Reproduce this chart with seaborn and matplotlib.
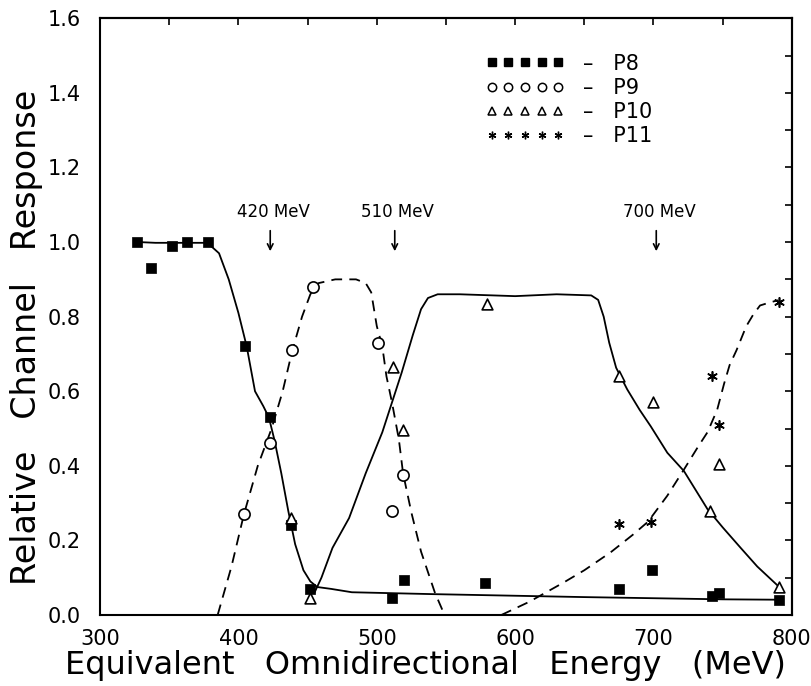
import numpy as np
import pandas as pd
import matplotlib
matplotlib.use("Agg")
import matplotlib.pyplot as plt
from matplotlib.lines import Line2D
from matplotlib.ticker import MultipleLocator, FormatStrFormatter
import seaborn as sns

# measured points
p8_e = [327, 337, 352, 363, 378, 405, 423, 438, 452, 511, 520, 578, 675, 699, 742, 747, 791]
p8_r = [1.00, 0.93, 0.99, 1.00, 1.00, 0.72, 0.53, 0.24, 0.07, 0.045, 0.095, 0.085, 0.07, 0.12, 0.05, 0.06, 0.04]
p9_e = [404, 423, 439, 454, 501, 511, 519]
p9_r = [0.27, 0.46, 0.71, 0.88, 0.73, 0.28, 0.375]
p10_e = [438, 452, 512, 519, 580, 675, 700, 741, 747, 791]
p10_r = [0.26, 0.045, 0.665, 0.495, 0.835, 0.64, 0.57, 0.28, 0.405, 0.075]
p11_e = [675, 698, 742, 747, 791]
p11_r = [0.245, 0.25, 0.64, 0.51, 0.84]

# fitted response curves
p8_fit_e = [328, 340, 360, 375, 380, 386, 393, 400, 406, 412, 418, 422, 426, 431, 436, 441, 447, 452, 457, 467, 482, 540, 650, 750, 790]
p8_fit_r = [1.00, 0.998, 0.998, 0.998, 0.99, 0.97, 0.90, 0.81, 0.72, 0.60, 0.56, 0.53, 0.47, 0.38, 0.28, 0.19, 0.12, 0.09, 0.075, 0.07, 0.061, 0.056, 0.048, 0.042, 0.041]
p9_fit_e = [385, 395, 404, 414, 424, 432, 439, 446, 452, 458, 470, 485, 492, 496, 500, 504, 507, 511, 516, 519, 525, 532, 542, 549]
p9_fit_r = [0.0, 0.13, 0.27, 0.40, 0.50, 0.60, 0.71, 0.80, 0.86, 0.89, 0.90, 0.90, 0.89, 0.865, 0.775, 0.72, 0.64, 0.57, 0.47, 0.38, 0.275, 0.17, 0.06, 0.0]
p10_fit_e = [455, 460, 468, 480, 492, 504, 511, 518, 526, 532, 537, 544, 560, 600, 630, 655, 660, 664, 668, 673, 681, 690, 698, 710, 722, 739, 750, 763, 775, 790]
p10_fit_r = [0.06, 0.10, 0.18, 0.26, 0.38, 0.49, 0.57, 0.65, 0.75, 0.82, 0.85, 0.86, 0.86, 0.855, 0.86, 0.857, 0.845, 0.80, 0.73, 0.663, 0.605, 0.55, 0.506, 0.435, 0.386, 0.284, 0.235, 0.18, 0.13, 0.078]
p11_fit_e = [590, 610, 635, 650, 669, 685, 696, 710, 722, 732, 739, 746, 751, 755, 760, 767, 772, 777, 784, 790]
p11_fit_r = [0.0, 0.035, 0.087, 0.12, 0.168, 0.215, 0.25, 0.32, 0.39, 0.45, 0.49, 0.55, 0.62, 0.67, 0.71, 0.774, 0.805, 0.83, 0.838, 0.844]

arrow_e = [423, 513, 702]
arrow_txt = ["420 MeV", "510 MeV", "700 MeV"]

sns.set_style("white")
plt.rcParams["font.family"] = ["DejaVu Sans"]
plt.rcParams["text.color"] = "black"
plt.rcParams["axes.labelcolor"] = "black"
plt.rcParams["xtick.color"] = "black"
plt.rcParams["ytick.color"] = "black"

fig = plt.figure(figsize=(8.12, 6.86), dpi=100)
ax = fig.add_axes([0.1232, 0.1035, 0.852, 0.8698])

curves = [(p8_fit_e, p8_fit_r, "-"), (p9_fit_e, p9_fit_r, "--"),
          (p10_fit_e, p10_fit_r, "-"), (p11_fit_e, p11_fit_r, "--")]
for e, r, ls in curves:
    sns.lineplot(x=e, y=r, ax=ax, color="black", lw=1.3, linestyle=ls,
                 sort=False, estimator=None, legend=False)
    if ls == "--":
        ax.lines[-1].set_dashes([6, 4])

sns.scatterplot(x=p8_e, y=p8_r, ax=ax, marker="s", s=52, color="black",
                edgecolor="black", linewidth=0.5, legend=False, zorder=3)
sns.scatterplot(x=p9_e, y=p9_r, ax=ax, marker="o", s=65, facecolor="white",
                edgecolor="black", linewidth=1.2, legend=False, zorder=3)
sns.scatterplot(x=p10_e, y=p10_r, ax=ax, marker="^", s=60, facecolor="white",
                edgecolor="black", linewidth=1.2, legend=False, zorder=3)
sns.scatterplot(x=p11_e, y=p11_r, ax=ax, marker=(6, 2, 0), s=45, color="black",
                linewidth=1.2, legend=False, zorder=3)

for e, t in zip(arrow_e, arrow_txt):
    ax.annotate("", xy=(e, 0.968), xytext=(e, 1.038),
                arrowprops=dict(arrowstyle="->", color="black", lw=1.2))
    ax.text(e + 2, 1.08, t, ha="center", va="center", fontsize=12)

ax.set_xlim(300, 800)
ax.set_ylim(0, 1.6)
ax.xaxis.set_major_locator(MultipleLocator(100))
ax.xaxis.set_minor_locator(MultipleLocator(50))
ax.yaxis.set_major_locator(MultipleLocator(0.2))
ax.yaxis.set_minor_locator(MultipleLocator(0.1))
ax.yaxis.set_major_formatter(FormatStrFormatter("%.1f"))
ax.tick_params(which="both", direction="out", length=5, width=1.2, labelsize=15)
ax.tick_params(axis="y", which="major", pad=9)
ax.tick_params(axis="x", which="major", pad=5)
# ticks on the top and right frame point inwards
ax2 = ax.secondary_xaxis("top")
ax2.xaxis.set_major_locator(MultipleLocator(50))
ax2.tick_params(direction="in", length=5, width=1.2, labeltop=False)
ax3 = ax.secondary_yaxis("right")
ax3.yaxis.set_major_locator(MultipleLocator(0.1))
ax3.tick_params(direction="in", length=5, width=1.2, labelright=False)
for a in (ax, ax2, ax3):
    for spine in a.spines.values():
        spine.set_linewidth(1.5)
        spine.set_color("black")

ax.set_xlabel("Equivalent   Omnidirectional   Energy   (MeV)", fontsize=23)
ax.xaxis.set_label_coords(0.47, -0.058)
ax.xaxis.label.set_va("top")
ax.set_ylabel("Relative   Channel   Response", fontsize=24)
ax.yaxis.set_label_coords(-0.082, 0.466)

handles = [
    Line2D([], [], linestyle="None", marker="s", markersize=5.5, color="black"),
    Line2D([], [], linestyle="None", marker="o", markersize=6, markerfacecolor="white",
           markeredgecolor="black", markeredgewidth=1.1),
    Line2D([], [], linestyle="None", marker="^", markersize=6, markerfacecolor="white",
           markeredgecolor="black", markeredgewidth=1.1),
    Line2D([], [], linestyle="None", marker=(6, 2, 0), markersize=5.5, color="black",
           markeredgewidth=1.0),
]
labels = ["–   P8", "–   P9", "–   P10", "–   P11"]
ax.legend(handles, labels, numpoints=5, handlelength=3.8, handletextpad=0.9,
          loc="upper left", bbox_to_anchor=(0.53, 0.972), frameon=False,
          fontsize=15, labelspacing=0.2)

fig.savefig("out.png", dpi=100)
